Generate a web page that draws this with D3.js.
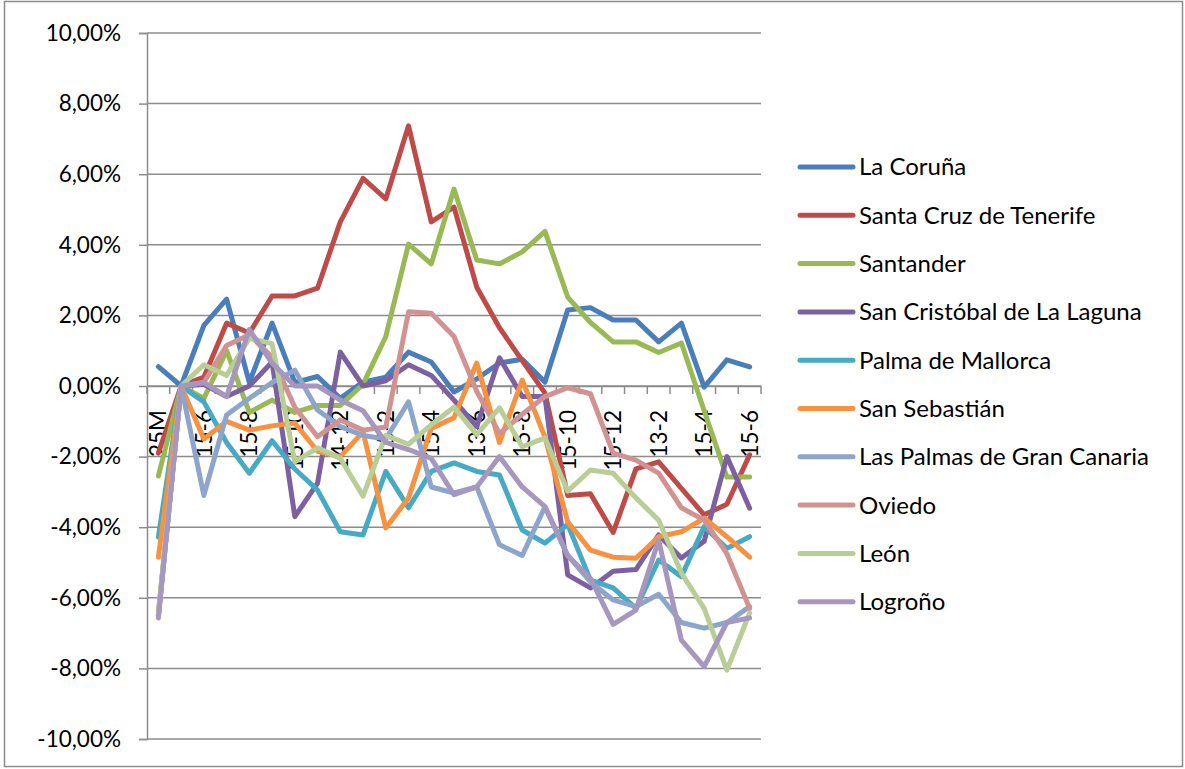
<!DOCTYPE html>
<html>
<head>
<meta charset="utf-8">
<script src="https://cdn.jsdelivr.net/npm/d3@7"></script>
<style>
  html, body { margin: 0; padding: 0; background: #fff; }
  svg { display: block; }
  text { font-family: Lato, "Open Sans", sans-serif; fill: #000; }
</style>
</head>
<body>
<svg id="chart" width="1185" height="769"></svg>
<script>
// Month labels along the category axis (only every other one is printed)
const categories = ["25M","1-6","15-6","15-7","15-8","15-9","15-10","15-11","14-12","15-1","15-2","15-3","15-4","15-5",
                    "13-6","15-7","15-8","15-9","15-10","15-11","15-12","15-1","13-2","15-3","15-4","15-5","15-6"];

// Percentage change per city
const laCoruna     = [0.55, 0, 1.72, 2.46, 0.1, 1.78, 0.1, 0.27, -0.35, 0.11, 0.25, 0.96, 0.68, -0.17, 0.2, 0.65, 0.76, 0.11, 2.15, 2.22, 1.87, 1.87, 1.25, 1.78, -0.03, 0.74, 0.54];
const santaCruz    = [-1.9, 0, 0.25, 1.78, 1.5, 2.55, 2.55, 2.77, 4.65, 5.88, 5.3, 7.37, 4.65, 5.07, 2.8, 1.65, 0.72, -0.2, -3.1, -3.05, -4.15, -2.35, -2.15, -2.9, -3.65, -3.35, -1.95];
const santander    = [-2.55, 0, -0.35, 1.0, -0.75, -0.4, -0.75, -0.55, -0.55, 0.05, 1.4, 4.02, 3.46, 5.58, 3.57, 3.46, 3.8, 4.38, 2.52, 1.8, 1.25, 1.25, 0.95, 1.22, -0.7, -2.58, -2.58];
const sanCristobal = [-6.5, 0, 0.05, -0.3, 0.0, 0.68, -3.7, -2.75, 0.96, 0.0, 0.15, 0.6, 0.3, -0.4, -1.15, 0.8, -0.3, -0.3, -5.35, -5.72, -5.25, -5.2, -4.22, -4.87, -4.4, -2.0, -3.46];
const palma        = [-4.28, 0, -0.45, -1.6, -2.47, -1.55, -2.35, -2.95, -4.13, -4.22, -2.42, -3.45, -2.42, -2.18, -2.42, -2.52, -4.08, -4.45, -3.92, -5.5, -5.72, -6.3, -4.93, -5.4, -3.98, -4.6, -4.27];
const sanSebastian = [-4.85, 0, -1.5, -1.0, -1.25, -1.13, -1.05, -1.85, -2.0, -1.3, -4.02, -3.17, -1.2, -0.9, 0.65, -1.6, 0.17, -1.45, -3.85, -4.65, -4.85, -4.88, -4.27, -4.13, -3.74, -4.27, -4.85];
const lasPalmas    = [-6.5, 0, -3.1, -0.82, -0.35, 0.1, 0.45, -0.68, -1.15, -1.4, -1.5, -0.45, -2.86, -3.03, -2.86, -4.5, -4.8, -3.42, -4.8, -5.55, -6.06, -6.25, -5.9, -6.7, -6.86, -6.7, -6.25];
const oviedo       = [-6.5, 0, 0.1, 1.15, 1.45, 0.82, -0.6, -1.44, -0.96, -1.25, -1.16, 2.1, 2.06, 1.4, -0.15, -1.35, -0.8, -0.3, -0.05, -0.22, -1.9, -2.1, -2.47, -3.45, -3.8, -4.75, -6.3];
const leon         = [-6.4, 0, 0.6, 0.3, 1.35, 1.2, -2.15, -1.75, -2.05, -3.12, -1.4, -1.65, -1.1, -0.6, -1.38, -0.62, -1.72, -1.47, -2.98, -2.38, -2.47, -3.17, -3.8, -5.3, -6.3, -8.05, -6.43];
const logrono      = [-6.57, 0, 0.1, -0.3, 1.6, 0.65, 0.0, 0.0, -0.4, -0.7, -1.6, -1.8, -2.05, -3.08, -2.86, -2.0, -2.86, -3.42, -4.8, -5.45, -6.75, -6.35, -4.37, -7.2, -7.95, -6.7, -6.57];

const seriesNames  = ["La Coruña", "Santa Cruz de Tenerife", "Santander", "San Cristóbal de La Laguna", "Palma de Mallorca",
                      "San Sebastián", "Las Palmas de Gran Canaria", "Oviedo", "León", "Logroño"];
const seriesValues = [laCoruna, santaCruz, santander, sanCristobal, palma, sanSebastian, lasPalmas, oviedo, leon, logrono];
const seriesColors = ["#4A7EBB", "#BE4B48", "#98B954", "#7D60A0", "#46AAC5", "#F69240", "#8EA5CB", "#D19391", "#B9CD96", "#A597BE"];

const yTicks = [-10, -8, -6, -4, -2, 0, 2, 4, 6, 8, 10];

const svg = d3.select("#chart");

// Outer chart frame
svg.append("rect")
  .attr("x", 4.5).attr("y", 1.5).attr("width", 1178).attr("height", 765)
  .attr("fill", "none").attr("stroke", "#8c8c8c").attr("stroke-width", 1.5);

const plot = { left: 147, right: 761, top: 33, bottom: 739 };

const x = d3.scaleBand().domain(d3.range(categories.length)).range([plot.left, plot.right]);
const cx = i => x(i) + x.bandwidth() / 2;
const y = d3.scaleLinear().domain([-10, 10]).range([plot.bottom, plot.top]);

const es = d3.formatLocale({ decimal: ",", thousands: ".", grouping: [3], currency: ["", " €"], minus: "-" });
const fmt = es.format(".2f");

// Horizontal gridlines
svg.append("g")
  .selectAll("line").data(yTicks).join("line")
  .attr("x1", plot.left).attr("x2", plot.right)
  .attr("y1", d => y(d)).attr("y2", d => y(d))
  .attr("stroke", "#8c8c8c").attr("stroke-width", 1.5);

// Value axis
const yAxis = svg.append("g")
  .attr("transform", `translate(${plot.left},0)`)
  .call(d3.axisLeft(y).tickValues(yTicks).tickSize(8).tickPadding(18).tickFormat(d => fmt(d) + "%"));
yAxis.select(".domain").attr("stroke", "#8c8c8c").attr("stroke-width", 1.5);
yAxis.selectAll(".tick line").attr("stroke", "#8c8c8c").attr("stroke-width", 1.5);
yAxis.selectAll(".tick text")
  .style("font-family", "Lato, sans-serif").style("font-size", "22.5px").attr("fill", "#000");

// Category axis along the zero line
const zeroY = y(0);
const xAxis = svg.append("g")
  .attr("transform", `translate(0,${zeroY})`)
  .call(d3.axisBottom(x).tickSize(0).tickSizeOuter(0)
    .tickFormat(i => i % 2 === 0 ? categories[i] : ""));
xAxis.select(".domain").attr("stroke", "#8c8c8c").attr("stroke-width", 1.5);
xAxis.selectAll(".tick text")
  .style("font-family", "Lato, sans-serif").style("font-size", "22.5px").attr("fill", "#000")
  .attr("transform", "rotate(-90)")
  .attr("text-anchor", "end")
  .attr("x", -24).attr("y", 0).attr("dy", "0.35em");

// Tick marks between categories
const boundaries = d3.range(categories.length).map(i => x(i)).concat([plot.right]);
svg.append("g")
  .selectAll("line").data(boundaries).join("line")
  .attr("x1", d => d).attr("x2", d => d)
  .attr("y1", zeroY).attr("y2", zeroY + 8)
  .attr("stroke", "#8c8c8c").attr("stroke-width", 1.5);

// Series lines
const line = d3.line().x((d, i) => cx(i)).y(d => y(d));
svg.append("g")
  .selectAll("path").data(seriesValues).join("path")
  .attr("d", d => line(d))
  .attr("fill", "none")
  .attr("stroke", (d, i) => seriesColors[i])
  .attr("stroke-width", 5)
  .attr("stroke-linejoin", "round")
  .attr("stroke-linecap", "round");

// Legend
const legend = svg.append("g");
const rowY = i => 167 + i * 48.3;
legend.selectAll("line").data(seriesNames).join("line")
  .attr("x1", 800).attr("x2", 853)
  .attr("y1", (d, i) => rowY(i)).attr("y2", (d, i) => rowY(i))
  .attr("stroke", (d, i) => seriesColors[i])
  .attr("stroke-width", 5).attr("stroke-linecap", "round");
legend.selectAll("text").data(seriesNames).join("text")
  .attr("x", 859).attr("y", (d, i) => rowY(i)).attr("dy", "0.35em")
  .style("font-size", "24px")
  .text(d => d);
</script>
</body>
</html>
